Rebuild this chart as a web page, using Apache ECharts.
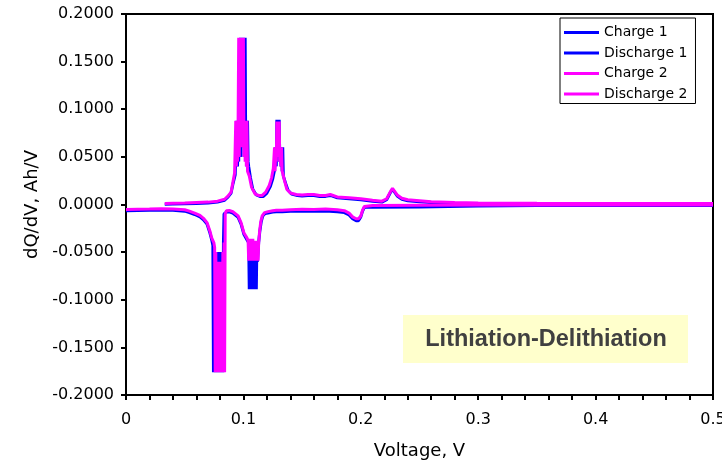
<!DOCTYPE html>
<html>
<head>
<meta charset="utf-8">
<script src="https://cdn.jsdelivr.net/npm/echarts@6/dist/echarts.min.js"></script>
<style>
html,body{margin:0;padding:0;background:#fff;}
#chart{width:722px;height:462px;}
</style>
</head>
<body>
<div id="chart"></div>
<script>
// ---- data (Voltage V, dQ/dV Ah/V) ----
var seriesNames = ['Charge 1', 'Discharge 1', 'Charge 2', 'Discharge 2'];
var xTicks = [0, 0.1, 0.2, 0.3, 0.4, 0.5];
var yTicks = [-0.2, -0.15, -0.1, -0.05, 0, 0.05, 0.1, 0.15, 0.2];

var c2V = [0.033,0.04,0.05,0.06,0.07,0.078,0.084,0.087,0.0895,0.091,0.0925,
  0.0935,0.094,0.0945,0.095,0.0955,0.096,0.0965,0.097,0.0975,0.098,0.0985,0.099,0.0995,0.100,0.1005,0.101,0.1015,0.102,0.1025,0.103,0.1035,
  0.105,0.107,0.110,0.113,0.116,0.119,0.122,0.124,0.1255,
  0.1265,0.127,0.1275,0.128,0.1285,0.129,0.1295,0.130,0.1305,0.131,0.1315,0.132,0.1325,0.133,
  0.135,0.137,0.140,0.145,0.150,0.155,0.160,0.165,0.170,0.174,0.180,0.190,0.200,0.210,0.218,0.222,0.225,0.227,0.2285,0.231,0.235,0.240,0.250,0.260,0.280,0.300,0.350,0.400,0.450,0.500];
var c2Q = [0.001,0.0012,0.0015,0.002,0.0025,0.0035,0.0055,0.009,0.013,0.023,0.033,
  0.088,0.040,0.088,0.045,0.088,0.175,0.050,0.175,0.060,0.175,0.060,0.175,0.060,0.175,0.050,0.088,0.045,0.088,0.040,0.088,0.035,
  0.030,0.018,0.011,0.0095,0.0095,0.013,0.020,0.028,0.038,
  0.060,0.035,0.060,0.045,0.087,0.050,0.087,0.050,0.087,0.045,0.060,0.040,0.060,0.035,
  0.025,0.016,0.012,0.0105,0.010,0.0105,0.0105,0.0095,0.0095,0.0105,0.008,0.007,0.006,0.0045,0.0035,0.006,0.013,0.017,0.016,0.010,0.0065,0.005,0.004,0.003,0.002,0.0015,0.0012,0.001,0.001,0.001];

var c1V = [0.033,0.04,0.05,0.06,0.07,0.078,0.084,0.087,0.0895,0.091,0.093,
  0.0945,0.095,0.0955,0.096,0.0965,0.097,0.0975,0.098,0.0985,0.099,0.0995,0.100,0.1005,0.101,0.1015,0.102,0.1025,0.103,0.1035,0.104,0.1045,
  0.106,0.108,0.111,0.114,0.117,0.120,0.123,0.125,0.1265,
  0.1275,0.128,0.1285,0.129,0.1295,0.130,0.1305,0.131,0.1315,0.132,0.1325,0.133,0.1335,0.134,
  0.136,0.138,0.141,0.146,0.150,0.155,0.160,0.165,0.170,0.174,0.180,0.190,0.200,0.210,0.218,0.222,0.225,0.227,0.2285,0.231,0.235,0.240,0.250,0.260,0.280,0.300,0.350,0.400,0.450,0.500];
var c1Q = [0.0002,0.0004,0.0007,0.001,0.0015,0.0025,0.0045,0.008,0.012,0.021,0.031,
  0.088,0.040,0.088,0.045,0.088,0.060,0.175,0.050,0.175,0.060,0.175,0.060,0.175,0.060,0.175,0.050,0.088,0.040,0.088,0.045,0.040,
  0.028,0.016,0.010,0.0085,0.0085,0.012,0.019,0.027,0.036,
  0.060,0.040,0.089,0.050,0.089,0.050,0.089,0.045,0.060,0.040,0.060,0.035,0.060,0.030,
  0.022,0.015,0.011,0.0095,0.009,0.0095,0.0095,0.0085,0.0085,0.0095,0.007,0.006,0.005,0.0035,0.0025,0.005,0.012,0.016,0.015,0.009,0.0055,0.004,0.003,0.002,0.001,0.0008,0.0005,0.0005,0.0005,0.0005];

var d2V = [0,0.01,0.02,0.03,0.04,0.05,0.054,0.0585,0.063,0.066,0.069,0.0715,0.073,0.0748,
  0.0755,0.076,0.0765,0.077,0.0775,0.078,0.0785,0.079,0.0795,0.080,0.0805,0.081,0.0815,0.082,0.0825,0.083,0.0835,0.084,0.0845,
  0.0855,0.088,0.091,0.0955,0.098,0.1005,0.103,
  0.104,0.1045,0.105,0.1055,0.106,0.1065,0.107,0.1075,0.108,0.1085,0.109,0.1095,0.110,0.1105,0.111,0.1115,0.112,0.1125,0.113,
  0.1138,0.1148,0.116,0.118,0.121,0.125,0.128,0.133,0.140,0.150,0.160,0.170,0.180,0.186,0.190,0.193,0.196,0.198,0.200,0.2015,0.203,0.210,0.250,0.300,0.350,0.400,0.450,0.500];
var d2Q = [-0.0053,-0.005,-0.0048,-0.0045,-0.0047,-0.0055,-0.007,-0.009,-0.0115,-0.0145,-0.019,-0.028,-0.035,-0.040,
  -0.045,-0.176,-0.050,-0.176,-0.060,-0.176,-0.060,-0.176,-0.060,-0.176,-0.060,-0.176,-0.060,-0.176,-0.050,-0.176,-0.040,-0.176,-0.010,
  -0.0065,-0.0063,-0.0075,-0.012,-0.019,-0.030,-0.035,
  -0.038,-0.059,-0.040,-0.059,-0.036,-0.059,-0.040,-0.059,-0.036,-0.059,-0.040,-0.059,-0.038,-0.059,-0.040,-0.059,-0.038,-0.059,-0.040,
  -0.028,-0.018,-0.012,-0.0085,-0.0075,-0.0065,-0.006,-0.006,-0.0055,-0.005,-0.0052,-0.0048,-0.0055,-0.0065,-0.009,-0.013,-0.015,-0.015,-0.012,-0.006,-0.002,-0.001,-0.0008,-0.0005,-0.0005,-0.0005,-0.0005,-0.0005];

var d1V = [0,0.01,0.02,0.03,0.04,0.05,0.054,0.0585,0.063,0.066,0.069,0.0715,0.073,0.074,
  0.0745,0.075,0.0755,0.076,0.0765,0.077,0.0775,0.078,0.0785,0.079,0.0795,0.080,0.0805,0.081,0.0815,0.082,0.0825,0.083,0.0835,
  0.0855,0.088,0.091,0.0955,0.098,0.1005,0.103,
  0.1045,0.105,0.1055,0.106,0.1065,0.107,0.1075,0.108,0.1085,0.109,0.1095,0.110,0.1105,0.111,0.1115,0.112,
  0.113,0.114,0.1152,0.1165,0.1185,0.121,0.125,0.128,0.133,0.140,0.150,0.160,0.170,0.180,0.186,0.190,0.193,0.196,0.198,0.200,0.2015,0.203,0.210,0.250,0.300,0.350,0.400,0.450,0.500];
var d1Q = [-0.0065,-0.0062,-0.006,-0.0058,-0.006,-0.007,-0.0085,-0.0105,-0.013,-0.016,-0.0205,-0.030,-0.037,-0.043,
  -0.176,-0.045,-0.176,-0.057,-0.176,-0.057,-0.176,-0.050,-0.176,-0.057,-0.176,-0.050,-0.176,-0.057,-0.176,-0.050,-0.176,-0.040,-0.010,
  -0.008,-0.0078,-0.009,-0.0135,-0.0205,-0.0315,-0.037,
  -0.040,-0.089,-0.040,-0.089,-0.045,-0.089,-0.045,-0.089,-0.045,-0.089,-0.045,-0.089,-0.040,-0.089,-0.040,-0.060,
  -0.040,-0.028,-0.018,-0.012,-0.0095,-0.009,-0.008,-0.0075,-0.0075,-0.007,-0.0068,-0.007,-0.0068,-0.0075,-0.0085,-0.011,-0.015,-0.017,-0.017,-0.013,-0.007,-0.003,-0.003,-0.0025,-0.0015,-0.001,-0.001,-0.001,-0.001];

function pairs(v, q) { return v.map(function (x, i) { return [x, q[i]]; }); }

var colors = ['#0000FF', '#0000FF', '#FF00FF', '#FF00FF'];
var dataSets = [pairs(c1V, c1Q), pairs(d1V, d1Q), pairs(c2V, c2Q), pairs(d2V, d2Q)];

var FONT = 'DejaVu Sans, Verdana, sans-serif';
var chart = echarts.init(document.getElementById('chart'), null, {renderer: 'canvas'});
chart.setOption({
  animation: false,
  backgroundColor: '#ffffff',
  grid: {left: 126, right: 9, top: 14, bottom: 67, containLabel: false, outerBoundsMode: 'none',
    show: true, borderColor: '#000', borderWidth: 2, backgroundColor: 'transparent'},
  xAxis: {
    type: 'value', min: xTicks[0], max: xTicks[xTicks.length - 1], interval: 0.1,
    name: 'Voltage, V', nameLocation: 'middle', nameGap: 47,
    nameTextStyle: {fontFamily: FONT, fontSize: 18, color: '#000'},
    axisLine: {show: true, onZero: false, lineStyle: {color: '#000', width: 2}},
    axisTick: {show: true, inside: false, length: 5, lineStyle: {color: '#000', width: 2}},
    minorTick: {show: true, splitNumber: 5, length: 5, lineStyle: {color: '#000', width: 2}},
    splitLine: {show: false},
    axisLabel: {fontFamily: FONT, fontSize: 16, color: '#000', margin: 17,
      formatter: function (v) { return v === 0 ? '0' : v.toFixed(1); }}
  },
  yAxis: {
    type: 'value', min: yTicks[0], max: yTicks[yTicks.length - 1], interval: 0.05,
    name: 'dQ/dV, Ah/V', nameLocation: 'middle', nameGap: 81,
    nameTextStyle: {fontFamily: FONT, fontSize: 18, color: '#000'},
    axisLine: {show: true, onZero: false, lineStyle: {color: '#000', width: 2}},
    axisTick: {show: true, inside: false, length: 5, lineStyle: {color: '#000', width: 2}},
    splitLine: {show: false},
    axisLabel: {fontFamily: FONT, fontSize: 16, color: '#000', margin: 12,
      formatter: function (v) { return v.toFixed(4); }}
  },
  legend: {
    orient: 'vertical', left: 560, top: 18,
    data: seriesNames,
    icon: 'rect', itemWidth: 35, itemHeight: 3, itemGap: 3.5,
    padding: [6, 8, 1, 4],
    borderColor: '#000', borderWidth: 1, backgroundColor: '#fff',
    textStyle: {fontFamily: FONT, fontSize: 14, color: '#000', lineHeight: 17}
  },
  graphic: [
    {type: 'rect', left: 403, top: 315, shape: {width: 285, height: 48}, style: {fill: '#FFFFCC'}, z: 10},
    {type: 'text', x: 546, y: 340, z: 11,
      style: {text: 'Lithiation-Delithiation', fontSize: 23.5, fontWeight: 'bold',
        fontFamily: '"Liberation Sans", Arial, sans-serif', fill: '#404040',
        align: 'center', verticalAlign: 'middle'}}
  ],
  series: seriesNames.map(function (n, i) {
    return {
      name: n, type: 'line', data: dataSets[i], showSymbol: false, symbol: 'none',
      lineStyle: {color: colors[i], width: 3}, itemStyle: {color: colors[i]},
      clip: true
    };
  })
});
</script>
</body>
</html>
